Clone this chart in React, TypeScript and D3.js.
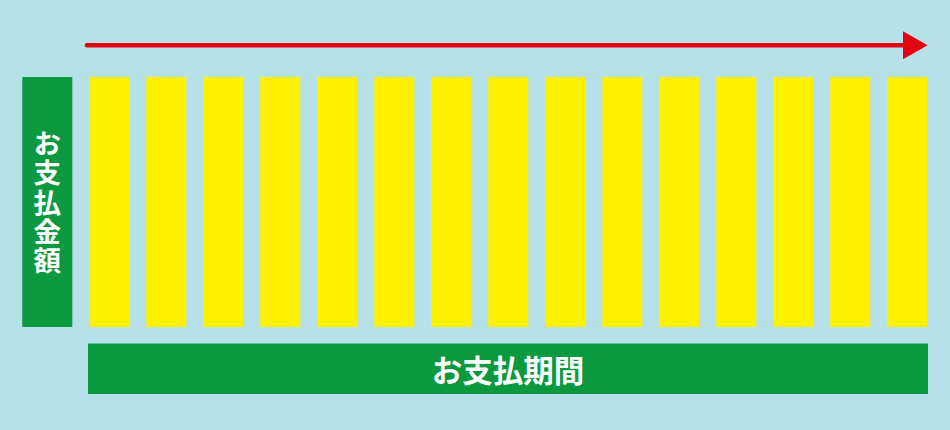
import React from "react";
import * as d3 from "d3";

const periods = ["1", "2", "3", "4", "5", "6", "7", "8", "9", "10", "11", "12", "13", "14", "15"];
const amounts = [1, 1, 1, 1, 1, 1, 1, 1, 1, 1, 1, 1, 1, 1, 1];
const yLabel = "お支払金額";
const xLabel = "お支払期間";

const W = 950;
const H = 430;
const BG = "#b6e1e9";
const GREEN = "#0a993f";
const YELLOW = "#fff200";
const RED = "#e50012";
const FONT = "'Noto Sans CJK JP', 'Noto Sans', sans-serif";

export default function App() {
  const x = d3
    .scaleBand<string>()
    .domain(periods)
    .range([89.3, 927.3])
    .paddingInner(17 / 57)
    .paddingOuter(0);
  const y = d3.scaleLinear().domain([0, 1]).range([327, 77]);

  const yBox = { x: 22.3, y: 77, w: 50, h: 250 };
  const xBox = { x: 88, y: 343.5, w: 840, h: 50.5 };

  return (
    <svg
      width={W}
      height={H}
      style={{ position: "absolute", left: 0, top: 0, display: "block" }}
    >
      <rect x={0} y={0} width={W} height={H} fill={BG} />

      {/* arrow */}
      <line x1={87} y1={45.3} x2={906} y2={45.3} stroke={RED} strokeWidth={4.5} strokeLinecap="round" />
      <path d="M903,31.3 L927.5,45.3 L903,59.3 Z" fill={RED} />

      {/* bars */}
      {periods.map((p, i) => (
        <rect
          key={p}
          x={x(p)}
          y={y(amounts[i])}
          width={x.bandwidth()}
          height={y(0) - y(amounts[i])}
          fill={YELLOW}
        />
      ))}

      {/* y label box */}
      <rect x={yBox.x} y={yBox.y} width={yBox.w} height={yBox.h} fill={GREEN} />
      <text
        x={yBox.x + yBox.w / 2}
        y={yBox.y + yBox.h / 2 + 1}
        textAnchor="middle"
        fontFamily={FONT}
        fontWeight={700}
        fontSize={27.5}
        fill="#ffffff"
        style={{ writingMode: "vertical-rl", letterSpacing: "1.8px" }}
      >
        {yLabel}
      </text>

      {/* x label box */}
      <rect x={xBox.x} y={xBox.y} width={xBox.w} height={xBox.h} fill={GREEN} />
      <text
        x={xBox.x + xBox.w / 2}
        y={xBox.y + xBox.h / 2}
        textAnchor="middle"
        dominantBaseline="central"
        fontFamily={FONT}
        fontWeight={700}
        fontSize={30.5}
        fill="#ffffff"
      >
        {xLabel}
      </text>
    </svg>
  );
}
